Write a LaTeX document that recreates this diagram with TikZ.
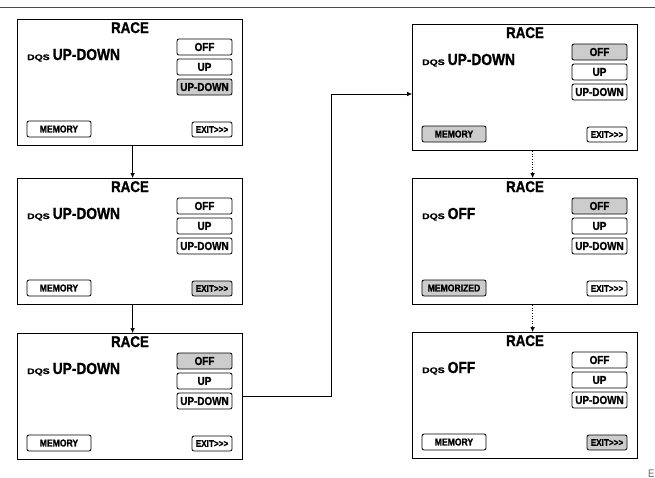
\documentclass[tikz,border=0pt]{standalone}
\usepackage{fontspec}
\setmainfont[FakeStretch=0.86, BoldFeatures={FakeBold=1.2}]{Liberation Sans}
\usetikzlibrary{arrows.meta}
\definecolor{btngray}{gray}{0.8}
\tikzset{
	screen/.style={draw, line width=1.2pt, anchor=north west, minimum width=225pt, minimum height=126pt, inner sep=0pt},
	title/.style={anchor=base, inner sep=0pt, font=\bfseries\fontsize{15.5}{15.5}\selectfont},
	dqsline/.style={anchor=base west, inner sep=0pt, font=\bfseries},
	btn/.style={draw, line width=0.8pt, rounded corners=2pt, inner sep=0pt, minimum width=55pt, minimum height=16pt, font=\bfseries\fontsize{11.5}{11.5}\selectfont},
	membtn/.style={btn, minimum width=64pt, font=\bfseries\fontsize{10}{10}\selectfont},
	exitbtn/.style={btn, minimum width=40pt, minimum height=15pt, font=\bfseries\fontsize{9.5}{9.5}\selectfont},
	arr/.style={line width=0.6pt, -{Latex[length=5pt,width=4.5pt]}}
}

\begin{document}
\begin{tikzpicture}[x=1pt,y=-1pt]
	\useasboundingbox (0,0) rectangle (655,477);
	\draw[black!70, line width=0.8pt] (0,7) -- (655,7);
	
	% screens: number/x/y/mode/fill OFF/fill UP-DOWN/fill memory/memory text/fill exit
	\foreach \i/\x/\y/\dqs/\fo/\fd/\fm/\mem/\fe in {
		1/17/19/UP-DOWN/white/btngray/white/MEMORY/white,
		2/17/178/UP-DOWN/white/white/white/MEMORY/btngray,
		3/17/333/UP-DOWN/btngray/white/white/MEMORY/white,
		4/412/24/UP-DOWN/btngray/white/btngray/MEMORY/white,
		5/412/178/OFF/btngray/white/btngray/MEMORIZED/white,
		6/412/332/OFF/white/white/white/MEMORY/btngray}
	{
		\node[screen] (s\i) at (\x,\y) {};
		\node[title] (s\i-title) at (\x+113,\y+14) {RACE};
		\node[dqsline] (s\i-dqs) at (\x+10,\y+41)
			{{\fontsize{8}{8}\selectfont\addfontfeature{FakeStretch=1.3}DQS}\hspace{3pt}{\fontsize{16}{16}\selectfont\dqs}};
		\node[btn, fill=\fo] (s\i-off) at (\x+187.5,\y+28) {OFF};
		\node[btn] (s\i-up) at (\x+187.5,\y+48) {UP};
		\node[btn, fill=\fd] (s\i-ud) at (\x+187.5,\y+68) {UP-DOWN};
		\node[membtn, fill=\fm] (s\i-mem) at (\x+42,\y+110) {\mem};
		\node[exitbtn, fill=\fe] (s\i-exit) at (\x+195,\y+110.5) {EXIT>\kern0pt>\kern0pt>};
	}
	
	\draw[arr] ([xshift=2.5pt]s1.south) -- ([xshift=2.5pt]s2.north);
	\draw[arr] ([xshift=2.5pt]s2.south) -- ([xshift=2.5pt]s3.north);
	\coordinate (bend) at (331,94);
	\draw[arr] (s3.east) -| (bend) -- (bend -| s4.west);
	\draw[arr, dotted] ([xshift=7.5pt]s4.south) -- ([xshift=7.5pt]s5.north);
	\draw[arr, dotted] ([xshift=7.5pt]s5.south) -- ([xshift=7.5pt]s6.north);
	
	\node[anchor=north west, inner sep=0pt, text=black!60, font=\fontsize{11}{11}\selectfont] (edge) at (648,470) {E};
\end{tikzpicture}
\end{document}
